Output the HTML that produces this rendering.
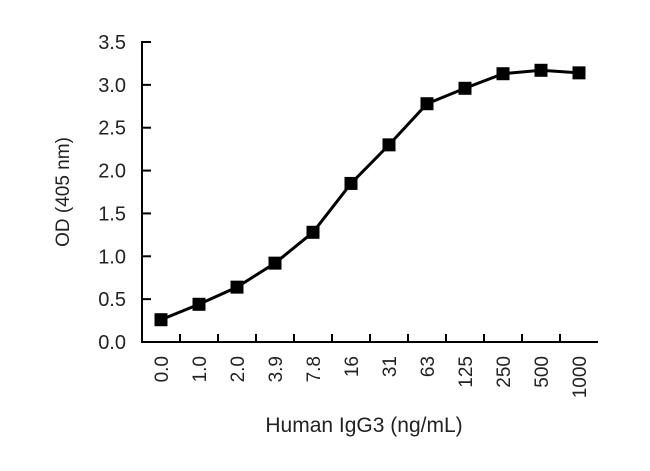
<!DOCTYPE html>
<html><head><meta charset="utf-8"><style>
body{margin:0;background:#fff;width:650px;height:466px;overflow:hidden}
text{font-family:"Liberation Sans",sans-serif;fill:#222}
</style></head><body>
<svg id="chart" width="650" height="466" viewBox="0 0 650 466" xmlns="http://www.w3.org/2000/svg">
<g id="axes"></g>
<g id="series"></g>
<text transform="translate(69,192) rotate(-90)" text-anchor="middle" font-size="19">OD (405 nm)</text>
<text x="364" y="432" text-anchor="middle" font-size="21">Human IgG3 (ng/mL)</text>
</svg>
<script>
const categories=["0.0","1.0","2.0","3.9","7.8","16","31","63","125","250","500","1000"];
const values=[0.26,0.44,0.64,0.92,1.28,1.85,2.30,2.78,2.96,3.13,3.17,3.14];
const yTicks=["0.0","0.5","1.0","1.5","2.0","2.5","3.0","3.5"];
const NS="http://www.w3.org/2000/svg";
const x0=142,x1=598,y0=342,y1=42,yMax=3.5;
const band=(x1-x0)/categories.length;
const xs=i=>x0+band*(i+0.5);
const ys=v=>y0-(v/yMax)*(y0-y1);
function mk(t,a,p){const e=document.createElementNS(NS,t);for(const k in a)e.setAttribute(k,a[k]);p.appendChild(e);return e;}
const ax=document.getElementById('axes'),se=document.getElementById('series');
let l=mk('line',{x1:x0,y1:y1-1,x2:x0,y2:y0+1,stroke:'#000','stroke-width':2},ax);


l=mk('line',{x1:x0-1,y1:y0,x2:x1,y2:y0,stroke:'#000','stroke-width':2},ax);


yTicks.forEach(t=>{const y=ys(parseFloat(t));
 const tk=mk('line',{x1:x0,y1:y,x2:x0+9,y2:y,stroke:'#000','stroke-width':2},ax);
 
 
 const tx=mk('text',{x:126,y:y+7,'text-anchor':'end','font-size':20},ax);tx.textContent=t;
 
 
});
categories.forEach((c,i)=>{
 const x=x0+band*(i+1);if(i<categories.length-1){
 const tk=mk('line',{x1:x,y1:y0,x2:x,y2:y0-8,stroke:'#000','stroke-width':2},ax);
 
 }
 const tx=mk('text',{transform:`translate(${xs(i)+7},356) rotate(-90)`,'text-anchor':'end','font-size':19},ax);tx.textContent=c;
 
 
});
const pts=values.map((v,i)=>xs(i)+','+ys(v)).join(' ');
const pl=mk('polyline',{points:pts,fill:'none',stroke:'#000','stroke-width':3},se);


values.forEach((v,i)=>{const r=mk('rect',{x:xs(i)-6.5,y:ys(v)-6.5,width:13,height:13,fill:'#000'},se);
 
 });
</script>
</body></html>
